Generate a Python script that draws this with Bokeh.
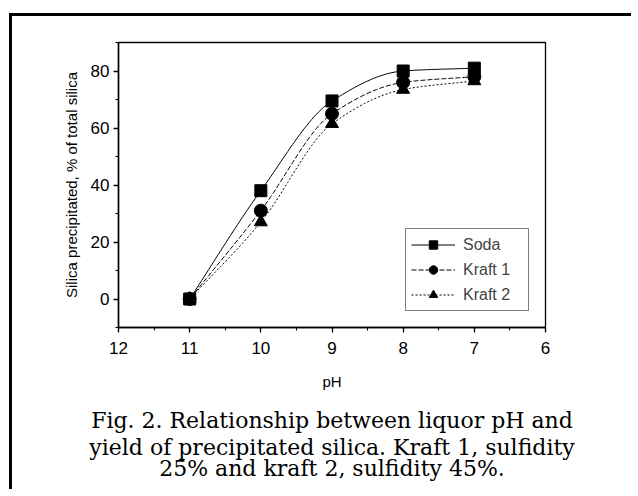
import numpy as np
from bokeh.plotting import figure
from bokeh.models import (Range1d, SingleIntervalTicker, Legend, LegendItem, Title)
from bokeh.embed import file_html
from bokeh.resources import INLINE

# ---- data ----
ph = [11, 10, 9, 8, 7]
soda = [0, 38, 69.5, 80, 81]
kraft1 = [0, 31, 65, 76, 78]
kraft2 = [0, 27, 61.5, 73.5, 76.5]
series_names = ["Soda", "Kraft 1", "Kraft 2"]
caption = ["Fig. 2. Relationship between liquor pH and",
           "yield of precipitated silica. Kraft 1, sulfidity",
           "25% and kraft 2, sulfidity 45%."]


def pchip(x, y, n=120):
    """Monotone cubic (PCHIP) smooth curve through the data points."""
    x = np.asarray(x, float)
    y = np.asarray(y, float)
    order = np.argsort(x)
    x, y = x[order], y[order]
    h = np.diff(x)
    d = np.diff(y) / h
    m = np.zeros_like(y)
    for k in range(1, len(x) - 1):
        if d[k - 1] * d[k] <= 0:
            m[k] = 0
        else:
            w1 = 2 * h[k] + h[k - 1]
            w2 = h[k] + 2 * h[k - 1]
            m[k] = (w1 + w2) / (w1 / d[k - 1] + w2 / d[k])
    m[0] = d[0]
    m[-1] = d[-1]
    xs = np.linspace(x[0], x[-1], n)
    ys = np.empty_like(xs)
    for i, xv in enumerate(xs):
        k = min(np.searchsorted(x, xv, side="right") - 1, len(x) - 2)
        t = (xv - x[k]) / h[k]
        h00 = 2 * t**3 - 3 * t**2 + 1
        h10 = t**3 - 2 * t**2 + t
        h01 = -2 * t**3 + 3 * t**2
        h11 = t**3 - t**2
        ys[i] = h00 * y[k] + h10 * h[k] * m[k] + h01 * y[k + 1] + h11 * h[k] * m[k + 1]
    return xs, ys


W, H = 622, 476
p = figure(width=W, height=H, output_backend="svg", toolbar_location=None,
           x_range=Range1d(12, 6), y_range=Range1d(-10, 90),
           min_border_left=106, min_border_right=89,
           min_border_top=26, min_border_bottom=165)
p.styles = {"border-left": "3px solid black", "border-top": "3px solid black",
            "margin-left": "9px", "margin-top": "13px"}
p.background_fill_color = "white"
p.border_fill_color = "white"
p.outline_line_color = "black"
p.outline_line_width = 1.3
p.grid.visible = False

FONT = "Liberation Sans"
for ax in (p.xaxis[0], p.yaxis[0]):
    ax.axis_line_width = 1.5
    ax.major_tick_out = 5
    ax.major_tick_in = 0
    ax.minor_tick_out = 3
    ax.minor_tick_in = 0
    ax.major_tick_line_width = 1.3
    ax.minor_tick_line_width = 1.1
    ax.major_label_text_font = FONT
    ax.major_label_text_font_size = "17px"
    ax.major_label_text_color = "black"
    ax.axis_label_text_font = FONT
    ax.axis_label_text_font_size = "15px"
    ax.axis_label_text_font_style = "normal"
    ax.axis_label_text_color = "black"

p.xaxis.ticker = SingleIntervalTicker(interval=1, num_minor_ticks=2)
p.yaxis.ticker = SingleIntervalTicker(interval=20, num_minor_ticks=2)
p.xaxis.axis_label = "pH"
p.yaxis.axis_label = "Silica precipitated, % of total silica"
p.xaxis.major_label_standoff = 9
p.xaxis.axis_label_standoff = 16
p.yaxis.major_label_standoff = 4
p.yaxis.axis_label_standoff = 8

dashes = ["solid", "5 2", "2 2"]
markers = ["square", "circle", "triangle"]
msizes = [12, 13, 13]
items = []
for name, vals, dash, mk, ms in zip(series_names, [soda, kraft1, kraft2], dashes, markers, msizes):
    xs, ys = pchip(ph, vals)
    ln = p.line(xs, ys, line_color="black", line_width=1, line_dash=dash)
    sc = p.scatter(ph, vals, marker=mk, size=ms, fill_color="black", line_color="black")
    items.append(LegendItem(label=name, renderers=[ln, sc]))

legend = Legend(items=items, location="bottom_right")
legend.label_text_font = FONT
legend.label_text_font_size = "16px"
legend.border_line_color = "black"
legend.border_line_width = 1.2
legend.margin = 16
legend.padding = 5
legend.spacing = 4
legend.glyph_width = 44
legend.glyph_height = 21
legend.label_standoff = 8
legend.label_width = 60
legend.background_fill_alpha = 1
p.add_layout(legend)

standoffs = [26, -28, 17]
for line, so in zip(caption, standoffs):
    t = Title(text=line, align="center", text_font="DejaVu Serif",
              text_font_size="22px", text_font_style="normal", text_color="black",
              standoff=so)
    p.add_layout(t, "below")

open("out.html", "w").write(file_html(p, INLINE))
